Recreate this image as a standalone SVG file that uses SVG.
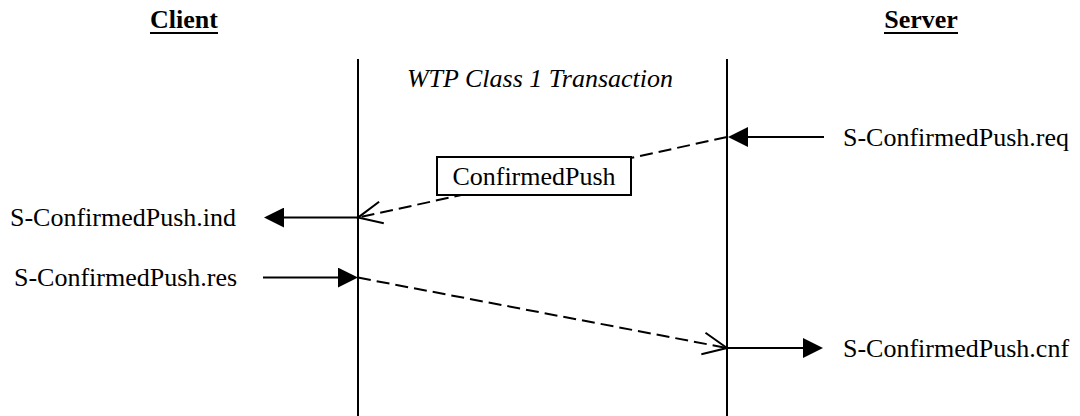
<svg xmlns="http://www.w3.org/2000/svg" width="1080" height="416" viewBox="0 0 1080 416">
<style>
  text { font-family: "Liberation Serif", "Times New Roman", serif; font-size: 26px; fill: #000; }
  .hdr { font-weight: bold; text-anchor: middle; }
  .title { font-style: italic; text-anchor: middle; }
  .ul { stroke: #000; stroke-width: 2; }
  .life { stroke: #000; stroke-width: 2; fill: none; }
  .solid { stroke: #000; stroke-width: 2; fill: none; marker-end: url(#filled); }
  .dash { stroke: #000; stroke-width: 2; fill: none; stroke-dasharray: 13 6; marker-end: url(#open); }
  .box { fill: #fff; stroke: #000; stroke-width: 2; }
</style>
<defs>
  <marker id="filled" markerUnits="userSpaceOnUse" viewBox="0 -10 20 20" refX="0" refY="0" markerWidth="20" markerHeight="20" orient="auto">
    <path d="M0,-10 L20,0 L0,10 Z" fill="#000" stroke="none"/>
  </marker>
  <marker id="open" markerUnits="userSpaceOnUse" viewBox="-28 -14 30 28" refX="0" refY="0" markerWidth="30" markerHeight="28" orient="auto">
    <path d="M-24,-11 L0,0 L-24,11" fill="none" stroke="#000" stroke-width="2" stroke-dasharray="none"/>
  </marker>
</defs>
<rect width="1080" height="416" fill="#fff"/>
<g id="client">
  <text class="hdr" x="184" y="28">Client</text>
  <line class="ul" x1="150" y1="33" x2="218" y2="33"/>
  <line class="life" x1="358" y1="59" x2="358" y2="416"/>
</g>
<g id="server">
  <text class="hdr" x="921" y="28">Server</text>
  <line class="ul" x1="884" y1="33" x2="958" y2="33"/>
  <line class="life" x1="727" y1="59" x2="727" y2="416"/>
</g>
<g id="transaction-label">
  <text class="title" x="540" y="87">WTP Class 1 Transaction</text>
</g>
<g id="connectors">
  <line class="solid" x1="824" y1="137" x2="748" y2="137"/>
  <line class="dash" x1="727" y1="137" x2="358" y2="217.6"/>
  <line class="solid" x1="358" y1="217.6" x2="284" y2="217.6"/>
  <line class="solid" x1="263" y1="277.6" x2="338" y2="277.6"/>
  <line class="dash" x1="358" y1="277.6" x2="727" y2="348"/>
  <line class="solid" x1="727" y1="348" x2="803" y2="348"/>
</g>
<g id="pdu-confirmedpush">
  <rect class="box" x="437" y="157" width="194" height="38"/>
  <text x="534" y="185" text-anchor="middle">ConfirmedPush</text>
</g>
<g id="req"><text x="843" y="146">S-ConfirmedPush.req</text></g>
<g id="ind"><text x="10" y="226">S-ConfirmedPush.ind</text></g>
<g id="res"><text x="14" y="286">S-ConfirmedPush.res</text></g>
<g id="cnf"><text x="843" y="357">S-ConfirmedPush.cnf</text></g>
</svg>
